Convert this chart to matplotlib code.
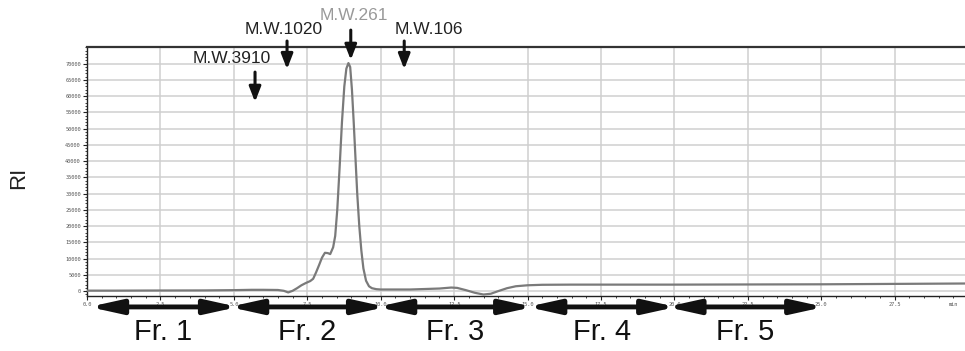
import matplotlib
matplotlib.use("Agg")
import matplotlib.pyplot as plt
from matplotlib.ticker import MultipleLocator, FixedLocator, FixedFormatter

# chromatogram trace (time in min, RI response)
time_min = [0.0, 1.0, 2.0, 3.0, 4.0, 5.0, 5.6, 6.0, 6.5, 6.7, 6.85, 7.0, 7.15, 7.3,
            7.45, 7.6, 7.7, 7.8, 7.9, 8.0, 8.1, 8.2, 8.28, 8.38, 8.45, 8.52, 8.6,
            8.68, 8.76, 8.83, 8.9, 8.96, 9.02, 9.08, 9.14, 9.2, 9.27, 9.34, 9.41,
            9.5, 9.6, 9.7, 9.85, 10.0, 11.0, 12.0, 12.4, 12.6, 12.9, 13.2, 13.5,
            13.75, 14.0, 14.3, 14.6, 15.0, 15.5, 16.5, 20.0, 25.0, 30.0]
ri = [150, 150, 180, 200, 220, 300, 400, 400, 350, 100, -400, 100, 900, 1800,
      2500, 3100, 3800, 5800, 8000, 10300, 11800, 11700, 11400, 13500, 17000, 25000, 38000,
      52000, 63000, 68500, 70200, 69000, 62000, 52000, 41000, 30000, 20000, 12500, 7000,
      3200, 1500, 900, 600, 500, 500, 800, 1100, 1000, 300, -500, -1050,
      -800, 0, 900, 1500, 1800, 1950, 2000, 2000, 2100, 2350]

# molecular weight markers: label, time, label colour
mw_labels = ["M.W.3910", "M.W.1020", "M.W.261", "M.W.106"]
mw_times = [5.72, 6.81, 8.98, 10.8]
mw_colors = ["#222222", "#222222", "#999999", "#222222"]

# fractions: label, start, end
fr_labels = ["Fr. 1", "Fr. 2", "Fr. 3", "Fr. 4", "Fr. 5"]
fr_start = [0.27, 5.04, 10.08, 15.19, 19.93]
fr_end = [4.94, 9.98, 14.99, 19.86, 24.9]

y_ticks = list(range(0, 70001, 5000))
x_ticks = [0.0, 2.5, 5.0, 7.5, 10.0, 12.5, 15.0, 17.5, 20.0, 22.5, 25.0, 27.5]
x_ticklabels = ["%.1f" % v for v in x_ticks]
unit_pos = 29.5

fig = plt.figure(figsize=(9.65, 3.51), dpi=100)
ax = fig.add_axes([0.0902, 0.1567, 0.913, 0.708])

ax.plot(time_min, ri, color="#7a7a7a", lw=1.6, zorder=3)

ax.set_xlim(0, 30)
ax.set_ylim(-1500, 75000)

ax.xaxis.set_major_locator(FixedLocator(x_ticks))
ax.xaxis.set_major_formatter(FixedFormatter(x_ticklabels))
ax.xaxis.set_minor_locator(MultipleLocator(0.5))
ax.yaxis.set_major_locator(FixedLocator(y_ticks))
ax.yaxis.set_minor_locator(MultipleLocator(1000))

ax.tick_params(axis="both", which="major", labelsize=3.8, length=3, width=0.8,
               colors="#222222", labelcolor="#555555", pad=1.5)
ax.tick_params(axis="both", which="minor", length=1.5, width=0.6, colors="#222222")
for lab in ax.get_xticklabels() + ax.get_yticklabels():
    lab.set_family("DejaVu Sans Mono")

trans = ax.get_xaxis_transform()

# unit label at the end of the time axis
ax.annotate("min", xy=(unit_pos, 0), xycoords=trans, xytext=(0, -4.5),
            textcoords="offset points", ha="center", va="top", fontsize=3.8,
            color="#555555", family="DejaVu Sans Mono", annotation_clip=False)

ax.grid(True, which="major", color="#cfcfcf", lw=1.1, zorder=0)
ax.set_axisbelow(True)

ax.spines["right"].set_visible(False)
ax.spines["top"].set_color("#333333")
ax.spines["top"].set_linewidth(1.6)
ax.spines["left"].set_color("#222222")
ax.spines["left"].set_linewidth(1.0)
ax.spines["bottom"].set_color("#222222")
ax.spines["bottom"].set_linewidth(1.0)

# MW arrows: (text y, arrow top, arrow bottom) in axes fraction
mw_pos = [(0.955, 0.901, 0.781), (1.074, 1.026, 0.913),
          (1.127, 1.070, 0.950), (1.074, 1.026, 0.913)]
mw_text_dx = [-0.8, -0.12, 0.1, 0.85]
for lab, t, c, (ty, y0, y1), dx in zip(mw_labels, mw_times, mw_colors, mw_pos, mw_text_dx):
    ax.annotate("", xy=(t, y1), xytext=(t, y0), xycoords=trans, textcoords=trans,
                annotation_clip=False,
                arrowprops=dict(arrowstyle="-|>,head_length=0.9,head_width=0.35",
                                mutation_scale=10, lw=2.2, color="#111111",
                                shrinkA=0, shrinkB=0))
    ax.text(t + dx, ty, lab, transform=trans, ha="center", va="center",
            fontsize=12.5, color=c, family="Liberation Sans", clip_on=False)

# fraction arrows and labels; heads are drawn slightly inside the end points,
# so the ends are pushed out a little to make the tips meet
inset = 0.2
for lab, s, e in zip(fr_labels, fr_start, fr_end):
    ax.annotate("", xy=(e + inset, -0.044), xytext=(s - inset, -0.044),
                xycoords=trans, textcoords=trans, annotation_clip=False,
                arrowprops=dict(arrowstyle="<|-|>,head_length=1.9,head_width=0.42",
                                mutation_scale=10, lw=3.5, color="#111111",
                                shrinkA=0, shrinkB=0))
    ax.text((s + e) / 2, -0.145, lab, transform=trans, ha="center", va="center",
            fontsize=21, color="#111111", family="Liberation Sans", clip_on=False)

fig.text(0.019, 0.493, "RI", rotation=90, ha="center", va="center",
         fontsize=16, color="#222222", family="Liberation Sans")

fig.savefig("out.png", dpi=100)
